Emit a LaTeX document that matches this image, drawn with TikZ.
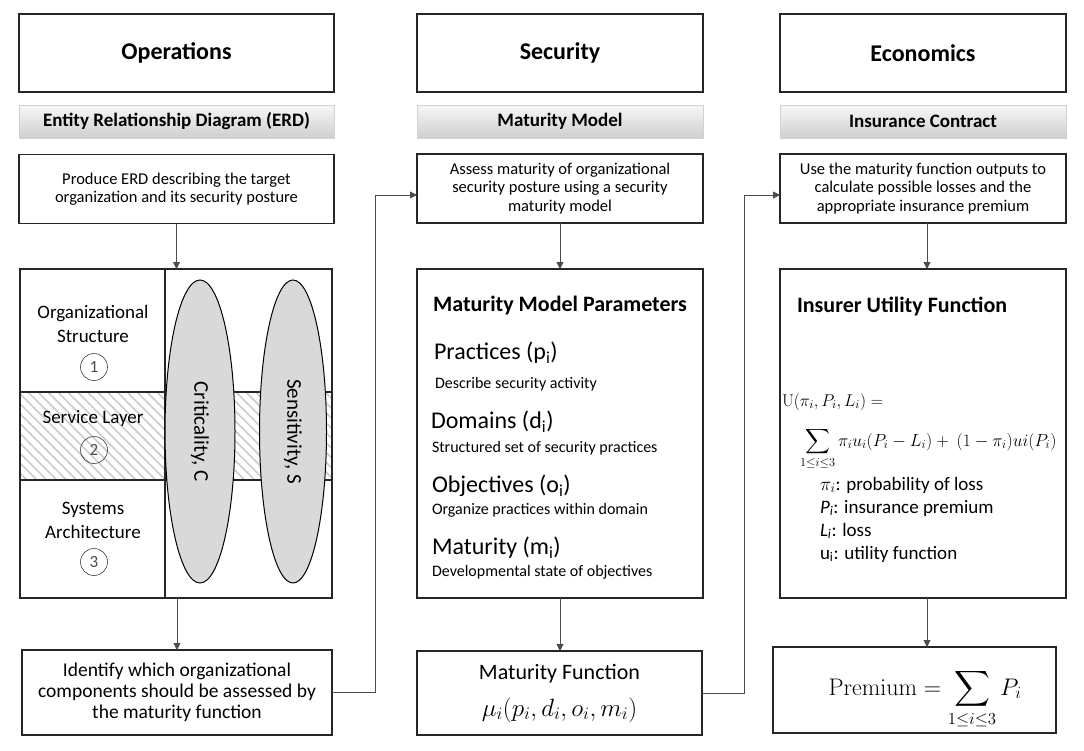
\RequirePackage{fix-cm}
\documentclass[tikz,border=0pt]{standalone}
\usepackage{amsmath}
\usepackage{exscale}
\usepackage[no-math]{fontspec}
\setmainfont{Carlito}
\usetikzlibrary{arrows.meta,patterns.meta,shapes.geometric,calc}
\newcommand\myfs[2]{\fontsize{#1}{#2}\selectfont}
\begin{document}
\begin{tikzpicture}[x=1pt,y=-1pt,
  box/.style={draw=black!85,line width=1.3pt,inner sep=0pt,outer sep=0pt,align=center},
  hdr/.style={box,minimum height=78pt,font=\bfseries\myfs{24}{28}},
  bar/.style={draw=gray!35,line width=0.6pt,top color=gray!6,bottom color=gray!38,inner sep=0pt,outer sep=0pt,minimum height=33pt,font=\bfseries\myfs{19}{22}},
  stepbox/.style={box,minimum height=69pt,font=\myfs{16.5}{18.5}},
  conn/.style={draw=black!70,line width=0.9pt},
  arr/.style={conn,-{Triangle[length=7pt,width=7pt]}},
  lbl/.style={inner sep=0pt,outer sep=0pt,align=center},
  oval/.style={ellipse,draw=black,line width=1pt,fill=gray!30,inner sep=0pt,rotate=-90,font=\myfs{21}{24}},
  num/.style={circle,draw=black!75,line width=0.6pt,minimum size=27pt,inner sep=0pt,text=black!70,font=\myfs{17}{20}},
]
\useasboundingbox (0,0) rectangle (1084,750);

% column headers
\node[hdr,minimum width=315pt] (ops) at (176.5,53) {Operations};
\node[hdr,minimum width=286pt] (sec) at (560,53) {Security};
\node[hdr,minimum width=286pt] (eco) at (923,53) {Economics};

% grey bars
\node[bar,minimum width=315pt] (erd) at (176.5,121.5) {Entity Relationship Diagram (ERD)};
\node[bar,minimum width=286pt] (mm) at (560,121.5) {Maturity Model};
\node[bar,minimum width=286pt] (ic) at (923,121.5) {Insurance Contract};

% step boxes
\node[stepbox,minimum width=315pt] (s1) at (176.5,189) {Produce ERD describing the target\\organization and its security posture};
\node[stepbox,minimum width=286pt] (s2) at (560,188.5) {Assess maturity of organizational\\security posture using a security\\maturity model};
\node[stepbox,minimum width=286pt] (s3) at (923,188.5) {Use the maturity function outputs to\\calculate possible losses and the\\appropriate insurance premium};

% ERD grid
\fill[white] (20,392) rectangle (332,480);
\fill[pattern={Lines[angle=-45,distance=7pt,line width=1.6pt]},pattern color=gray!40] (20,392) rectangle (332,480);
\node[box,minimum width=312pt,minimum height=329pt] (grid) at (176,433.5) {};
\draw[black!85,line width=1.3pt] (165,269) -- (165,598);
\draw[black!85,line width=1.3pt] (20,392) -- (332,392);
\draw[black!85,line width=1.3pt] (20,480) -- (332,480);
\node[oval,minimum width=303pt,minimum height=70pt] (crit) at (200,431.5) {Criticality, C};
\node[oval,minimum width=303pt,minimum height=67pt] (sens) at (293,431.5) {Sensitivity, S};
\node[lbl,font=\myfs{19}{24}] (l1) at (93,324) {Organizational\\Structure};
\node[num] (n1) at (94,367) {1};
\node[lbl,font=\myfs{19}{24}] (l2) at (93,418) {Service Layer};
\node[num] (n2) at (94,450) {2};
\node[lbl,font=\myfs{19}{24}] (l3) at (93,520) {Systems\\Architecture};
\node[num] (n3) at (94,562) {3};
\draw[arr] (s1.south) -- (s1.south |- grid.north);

% bottom left
\node[box,minimum width=310pt,minimum height=85pt,font=\myfs{19.5}{21}] (b1) at (177,692.5) {Identify which organizational\\components should be assessed by\\the maturity function};
\draw[arr] (b1.north |- grid.south) -- (b1.north);

% maturity model parameters
\node[box,minimum width=286pt,minimum height=329pt] (par) at (560,433.5) {};
\draw[arr] (s2.south) -- (par.north);
\node[lbl,font=\bfseries\myfs{22}{26}] (pt) at (560,306) {Maturity Model Parameters};
\node[lbl,anchor=west,font=\myfs{24}{28}] (p1) at (434,353) {Practices (p\textsubscript{i})};
\node[lbl,anchor=west,font=\myfs{16}{19}] (p1d) at (435,384) {Describe security activity};
\node[lbl,anchor=west,font=\myfs{24}{28}] (p2) at (431,422) {Domains (d\textsubscript{i})};
\node[lbl,anchor=west,font=\myfs{16}{19}] (p2d) at (432,448) {Structured set of security practices};
\node[lbl,anchor=west,font=\myfs{24}{28}] (p3) at (432,486) {Objectives (o\textsubscript{i})};
\node[lbl,anchor=west,font=\myfs{16}{19}] (p3d) at (432,510) {Organize practices within domain};
\node[lbl,anchor=west,font=\myfs{24}{28}] (p4) at (432,548) {Maturity (m\textsubscript{i})};
\node[lbl,anchor=west,font=\myfs{16}{19}] (p4d) at (432,572) {Developmental state of objectives};

% maturity function
\node[box,minimum width=285pt,minimum height=84pt,font=\myfs{22}{37}] (mf) at (559.5,693) {Maturity Function\\{\myfs{25}{37}$\mu_i(p_i,d_i,o_i,m_i)$}};
\draw[arr] (par.south) -- (par.south |- mf.north);

% insurer utility
\node[box,minimum width=286pt,minimum height=329pt] (util) at (923,433.5) {};
\draw[arr] ([xshift=4pt]s3.south) -- ([xshift=4pt]util.north);
\node[lbl,anchor=west,font=\bfseries\myfs{22}{26}] (ut) at (797,306) {Insurer Utility Function};
\node[lbl,anchor=base west,font=\myfs{17}{20}] (ueq) at (782,406) {$\mathrm{U}(\pi_i,P_i,L_i) =$};
\node[lbl,anchor=base west,font=\myfs{17.5}{20}] (usum) at (800,446) {$\displaystyle\sum_{1\le i\le 3}\pi_i u_i(P_i-L_i)+\ (1-\pi_i)ui(P_i)$};
\node[lbl,anchor=west,align=left,font=\myfs{19}{23}] (leg) at (820,519.5) {$\pi_i$: probability of loss\\\textit{P}\textsubscript{\textit{i}}: insurance premium\\\textit{L}\textsubscript{\textit{i}}: loss\\u\textsubscript{i}: utility function};

% premium
\node[box,minimum width=283pt,minimum height=86pt] (prem) at (914.5,690) {};
\node[lbl,anchor=base,font=\myfs{24}{28}] (pf) at (925,695) {$\displaystyle\mathrm{Premium} = \sum_{1\le i\le 3} P_i$};
\draw[arr] ([xshift=4pt]util.south) -- ([xshift=4pt]util.south |- prem.north);

% cross-column connectors
\draw[arr] (b1.east) -- ++(43,0) |- ([yshift=-6.5pt]s2.west);
\draw[arr] (mf.east) -- ++(42,0) |- ([yshift=-6.5pt]s3.west);
\end{tikzpicture}
\end{document}
